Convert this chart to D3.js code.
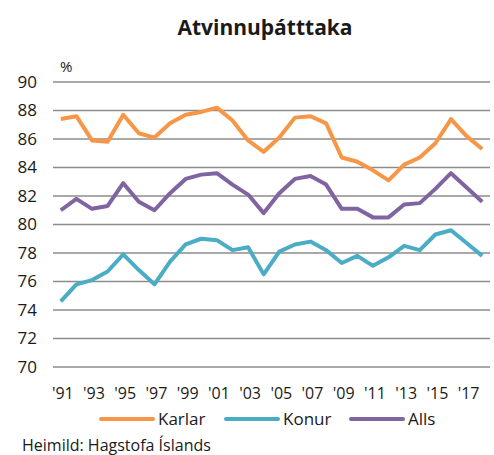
<!DOCTYPE html>
<html>
<head>
<meta charset="utf-8">
<script src="https://cdn.jsdelivr.net/npm/d3@7/dist/d3.min.js"></script>
<style>
  body { margin: 0; background: #fff; }
  text { font-family: 'Open Sans', sans-serif; fill: #1a1a1a; }
</style>
</head>
<body>
<div id="chart"></div>
<script>
// Data
const years = d3.range(1991, 2019);
const yTicks = [70, 72, 74, 76, 78, 80, 82, 84, 86, 88, 90];
const karlar = [87.4, 87.6, 85.9, 85.8, 87.7, 86.4, 86.1, 87.1, 87.7, 87.9, 88.2, 87.3, 85.9, 85.1,
  86.1, 87.5, 87.6, 87.1, 84.7, 84.4, 83.8, 83.1, 84.2, 84.7, 85.7, 87.4, 86.2, 85.3];
const konur = [74.6, 75.8, 76.1, 76.7, 77.9, 76.8, 75.8, 77.4, 78.6, 79.0, 78.9, 78.2, 78.4, 76.5,
  78.1, 78.6, 78.8, 78.2, 77.3, 77.8, 77.1, 77.7, 78.5, 78.2, 79.3, 79.6, 78.7, 77.8];
const alls = [81.0, 81.8, 81.1, 81.3, 82.9, 81.6, 81.0, 82.2, 83.2, 83.5, 83.6, 82.8, 82.1, 80.8,
  82.2, 83.2, 83.4, 82.8, 81.1, 81.1, 80.5, 80.5, 81.4, 81.5, 82.5, 83.6, 82.6, 81.6];

const series = [
  { name: 'Karlar', values: karlar, color: '#f79646' },
  { name: 'Konur', values: konur, color: '#4bacc6' },
  { name: 'Alls', values: alls, color: '#8064a2' }
];

const width = 494, height = 455;
const margin = { top: 82, right: 4, bottom: 88, left: 53 };
const innerW = width - margin.left - margin.right;
const innerH = height - margin.top - margin.bottom;

const svg = d3.select('#chart').append('svg')
  .attr('width', width)
  .attr('height', height);

const g = svg.append('g')
  .attr('transform', `translate(${margin.left},${margin.top})`);

const x = d3.scaleBand().domain(years).range([0, innerW]);
const y = d3.scaleLinear().domain([70, 90]).range([innerH, 0]);

// gridlines
g.selectAll('.grid')
  .data(yTicks)
  .enter().append('line')
  .attr('x1', 0).attr('x2', innerW)
  .attr('y1', d => y(d)).attr('y2', d => y(d))
  .attr('stroke', '#8c8c8c')
  .attr('stroke-width', 1.5);

// y labels
g.selectAll('.ylab')
  .data(yTicks)
  .enter().append('text')
  .attr('x', -16)
  .attr('y', d => y(d))
  .attr('dy', '0.35em')
  .attr('text-anchor', 'end')
  .style('font-size', '17px')
  .text(d => d);

// x labels
const xLabels = years.filter((d, i) => i % 2 === 0);
g.selectAll('.xlab')
  .data(xLabels)
  .enter().append('text')
  .attr('x', d => x(d) + x.bandwidth() / 2 + 2)
  .attr('y', innerH + 32)
  .attr('text-anchor', 'middle')
  .style('font-size', '16px')
  .text(d => "'" + String(d).slice(2));

// lines
const line = d3.line()
  .x((d, i) => x(years[i]) + x.bandwidth() / 2)
  .y(d => y(d));

g.selectAll('.series')
  .data(series)
  .enter().append('path')
  .attr('d', d => line(d.values))
  .attr('fill', 'none')
  .attr('stroke', d => d.color)
  .attr('stroke-width', 4)
  .attr('stroke-linejoin', 'round');

// title
svg.append('text')
  .attr('x', 265).attr('y', 35)
  .attr('text-anchor', 'middle')
  .style('font-size', '21px')
  .style('font-weight', 'bold')
  .text('Atvinnuþátttaka');

svg.append('text')
  .attr('x', 60).attr('y', 72)
  .style('font-size', '15px')
  .text('%');

// legend
const legend = svg.selectAll('.legend')
  .data(series)
  .enter().append('g')
  .attr('transform', (d, i) => `translate(${101 + i * 125},419)`);

legend.append('line')
  .attr('x1', 0).attr('x2', 52)
  .attr('stroke', d => d.color)
  .attr('stroke-width', 4)
  .attr('stroke-linecap', 'round');

legend.append('text')
  .attr('x', 57)
  .attr('dy', '0.35em')
  .style('font-size', '17px')
  .text(d => d.name);

svg.append('text')
  .attr('x', 22).attr('y', 451)
  .style('font-size', '16px')
  .text('Heimild: Hagstofa Íslands');
</script>
</body>
</html>
